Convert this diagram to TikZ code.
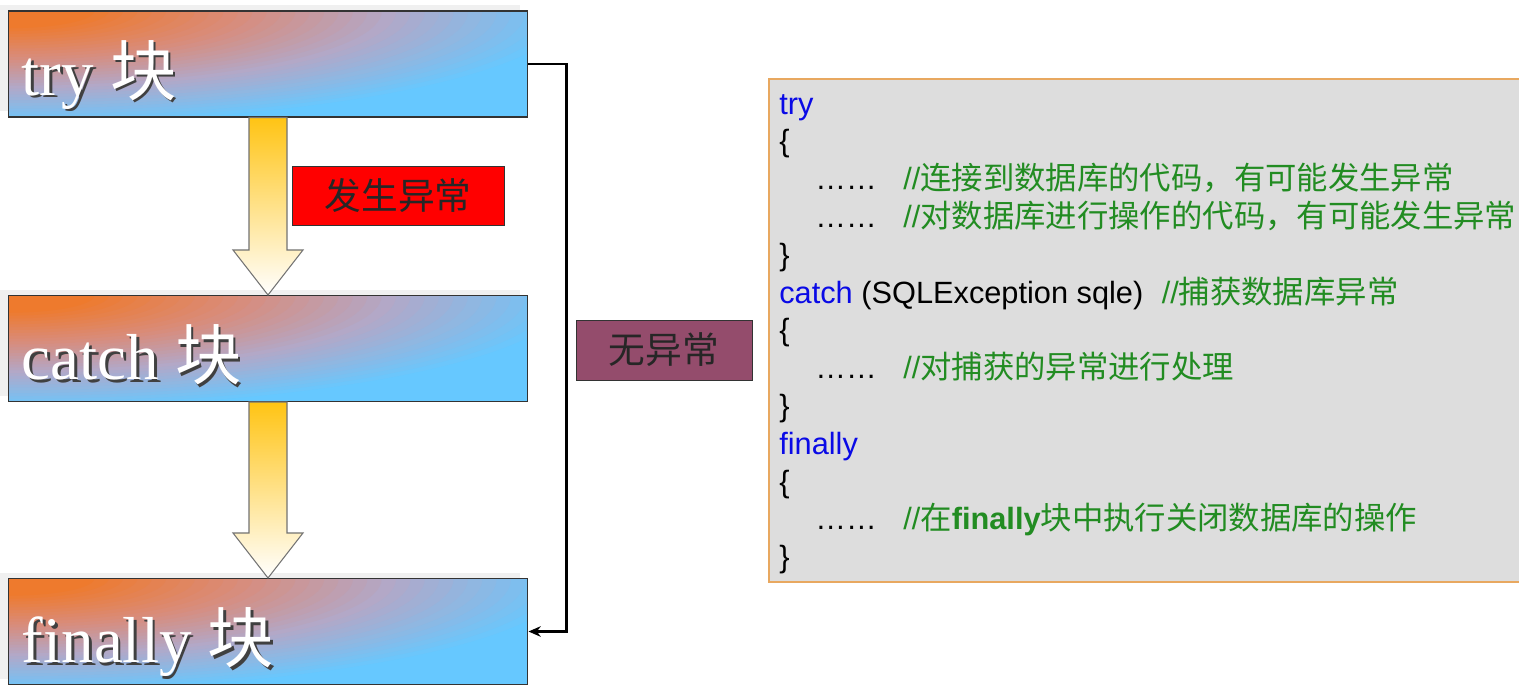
\documentclass[tikz,border=0pt]{standalone}
\usepackage{fontspec}
\setmainfont{Liberation Serif}
\newfontfamily\codefont{Liberation Sans}
\newfontfamily\cjk[Scale=1.02]{Noto Sans CJK SC}
\usepackage{tikz}
\usetikzlibrary{arrows.meta,calc,positioning}

\definecolor{boxorange}{RGB}{238,122,45}
\definecolor{glowpink}{RGB}{216,140,124}
\definecolor{glowlilac}{RGB}{178,168,200}
\definecolor{boxblue}{RGB}{102,200,255}
\definecolor{arrowgold}{RGB}{255,196,20}
\definecolor{alarmred}{RGB}{255,0,0}
\definecolor{quietplum}{RGB}{148,76,108}
\definecolor{codegray}{RGB}{221,221,221}
\definecolor{codeframe}{RGB}{232,168,96}
\definecolor{kwblue}{RGB}{10,10,230}
\definecolor{cmtgreen}{RGB}{34,140,34}

\newcommand{\kw}[1]{\textcolor{kwblue}{#1}}
\newcommand{\cmt}[1]{\textcolor{cmtgreen}{#1}}
\newcommand{\zh}[1]{{\cjk #1}}

% orange glow in the top left corner of a block, ring by ring
\newcommand{\cornerglow}{%
  \foreach \k in {0,...,39} {
    \pgfmathsetmacro\r{1-\k/40}
    \ifdim\r pt>0.68pt
      \pgfmathsetmacro\p{(\r-0.68)/0.32*100}\colorlet{glowtmp}{boxblue!\p!glowlilac}
    \else\ifdim\r pt>0.42pt
      \pgfmathsetmacro\p{(\r-0.42)/0.26*100}\colorlet{glowtmp}{glowlilac!\p!glowpink}
    \else\ifdim\r pt>0.15pt
      \pgfmathsetmacro\p{(\r-0.15)/0.27*100}\colorlet{glowtmp}{glowpink!\p!boxorange}
    \else
      \colorlet{glowtmp}{boxorange}
    \fi\fi\fi
    \fill[glowtmp] (path picture bounding box.north west)
      ellipse [x radius=\r*11.5cm, y radius=\r*2.3cm];
  }}

\tikzset{
  blockbox/.style={draw=black!80, line width=0.6pt, fill=boxblue,
    path picture={\cornerglow},
    minimum width=10.4cm, minimum height=2.12cm, inner sep=0pt},
  blocklabel/.style={anchor=base west, inner sep=0pt, text=white,
    font=\fontsize{37}{40}\selectfont},
  blockarrow/.style={top color=arrowgold, middle color=arrowgold!30, bottom color=white,
    draw=black!55, line width=0.6pt},
  flagbox/.style={draw=black!80, line width=0.5pt, text=black!85,
    font=\cjk\fontsize{20.5}{24}\selectfont, inner sep=0pt},
  flowline/.style={line width=1.4pt, -{Stealth[length=7pt, width=6pt]}},
  codeline/.style={anchor=base west, inner sep=0pt,
    font=\codefont\fontsize{17.5}{20}\selectfont}
}

\begin{document}
\begin{tikzpicture}[x=0.02cm, y=-0.02cm]
  \clip (0,0) rectangle (1519,700);
  \fill[white] (0,0) rectangle (1519,700);

  % the three blocks, each with a pale offset behind it
  \coordinate (tryc) at (268,64);
  \coordinate (catchc) at (268,348.5);
  \coordinate (finallyc) at (268,631.5);
  \foreach \b in {tryc, catchc, finallyc}
    \fill[black!6] ($(\b)+(-268,-59)$) rectangle ($(\b)+(252,47)$);
  \node[blockbox] (trybox) at (tryc) {};
  \node[blockbox] (catchbox) at (catchc) {};
  \node[blockbox] (finallybox) at (finallyc) {};

  \foreach \b/\t in {trybox/try, catchbox/catch, finallybox/finally} {
    \node[blocklabel, text=black!75] at ($(\b.west)+(16.5,33.5)$) {\t\ \zh{块}};
    \node[blocklabel] (\t label) at ($(\b.west)+(14,31)$) {\t\ \zh{块}};
  }

  % fall-through arrows
  \foreach \from/\to in {trybox/catchbox, catchbox/finallybox}
    \shadedraw[blockarrow] ($(\from.south)+(-19,0)$) -- ($(\from.south)+(19,0)$)
      -- ($(\to.north)+(19,-45)$) -- ($(\to.north)+(35,-45)$) -- (\to.north)
      -- ($(\to.north)+(-35,-45)$) -- ($(\to.north)+(-19,-45)$) -- cycle;

  \node[flagbox, fill=alarmred, minimum width=4.24cm, minimum height=1.18cm]
    (raised) at (398,195.5) {发生异常};

  % no exception path
  \draw[flowline] (trybox.east) -- ++(38,0) |- (finallybox.east);
  \node[flagbox, fill=quietplum, minimum width=3.52cm, minimum height=1.2cm]
    (quiet) at (664,350) {无异常};

  % code listing
  \filldraw[fill=codegray, draw=codeframe, line width=1pt] (769,79) rectangle (1540,582);
  \foreach \i/\txt in {0/{\kw{try}}, 1/\{, 4/\}, 6/\{, 8/\}, 9/{\kw{finally}}, 10/\{, 12/\}}
    \node[codeline] (line\i) at (779,{114+37.8*\i}) {\txt};
  \foreach \i/\txt in {2/{//\zh{连接到数据库的代码，有可能发生异常}},
                       3/{//\zh{对数据库进行操作的代码，有可能发生异常}},
                       7/{//\zh{对捕获的异常进行处理}},
                       11/{//\zh{在}\textbf{finally}\zh{块中执行关闭数据库的操作}}} {
    \node[codeline] (dots\i) at (815,{114+37.8*\i}) {……};
    \node[codeline] (note\i) at (903,{114+37.8*\i}) {\cmt{\txt}};
  }
  \node[codeline] (line5) at (779,{114+37.8*5})
    {\kw{catch} (SQLException sqle)\hspace{0.6em}\cmt{//\zh{捕获数据库异常}}};
\end{tikzpicture}
\end{document}
